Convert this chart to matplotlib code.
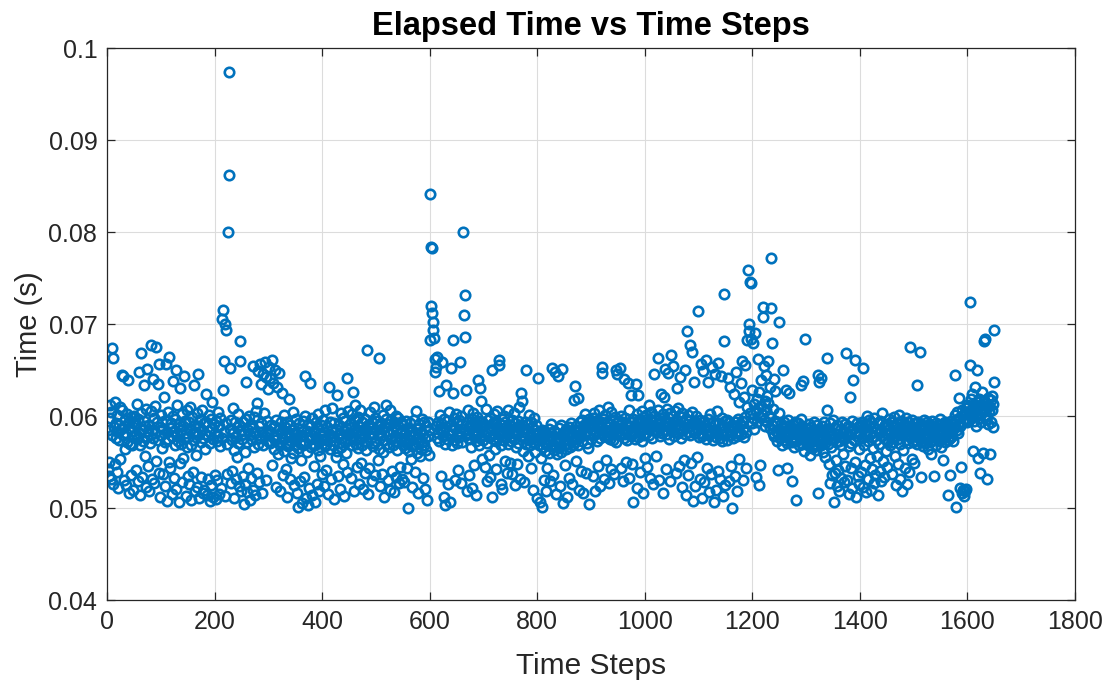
import numpy as np
import matplotlib
matplotlib.use("Agg")
import matplotlib.pyplot as plt

# Elapsed time per step, in milliseconds, in blocks of 150 steps
elapsed_ms_0001_0150 = [
    58.5, 54.2, 53.5, 55.0, 59.8, 61.2, 60.4, 53.1, 57.9, 67.4,
    66.3, 52.6, 58.8, 61.5, 54.8, 59.2, 57.6, 53.9, 60.1, 58.3,
    52.2, 59.0, 57.4, 61.0, 55.3, 58.6, 60.6, 64.5, 64.3, 57.9,
    53.0, 58.9, 59.6, 56.4, 52.5, 58.1, 60.2, 57.2, 63.9, 59.4,
    51.6, 58.7, 57.0, 59.9, 53.6, 58.4, 56.8, 59.3, 52.0, 60.0,
    57.8, 59.1, 54.1, 58.0, 61.3, 57.5, 52.9, 59.7, 64.8, 58.2,
    56.9, 51.4, 60.3, 66.9, 58.6, 53.4, 57.3, 63.4, 59.5, 55.6,
    58.9, 52.3, 60.8, 57.7, 65.1, 58.4, 54.6, 59.0, 51.9, 57.1,
    67.7, 60.5, 53.2, 58.5, 64.0, 57.6, 59.8, 52.7, 61.1, 58.1,
    55.1, 67.5, 59.3, 63.5, 57.4, 53.8, 65.6, 58.8, 51.2, 60.1,
    57.9, 56.5, 59.4, 53.7, 58.6, 62.1, 57.2, 52.4, 65.7, 59.6,
    58.3, 50.8, 60.4, 57.5, 55.0, 66.4, 58.7, 54.3, 59.2, 51.5,
    57.8, 63.8, 60.0, 58.4, 53.3, 56.9, 59.7, 65.0, 52.1, 58.0,
    61.2, 57.3, 50.6, 59.1, 54.9, 63.0, 58.5, 57.0, 52.8, 60.2,
    58.9, 55.4, 57.6, 64.4, 59.5, 51.3, 58.2, 56.6, 60.7, 53.5,
]
elapsed_ms_0151_0300 = [
    57.7, 59.3, 52.6, 58.6, 61.0, 56.8, 50.9, 59.9, 58.1, 53.9,
    57.4, 63.4, 59.0, 51.8, 58.3, 55.8, 60.3, 52.3, 57.9, 64.6,
    58.8, 51.1, 59.6, 57.2, 53.4, 58.5, 60.6, 51.6, 57.6, 59.2,
    52.0, 58.0, 56.4, 62.4, 59.4, 51.4, 57.8, 53.1, 60.1, 58.4,
    50.8, 57.1, 59.7, 52.5, 58.7, 61.5, 51.2, 57.5, 59.1, 53.6,
    58.2, 51.0, 59.5, 57.3, 53.0, 60.4, 57.8, 51.5, 58.9, 56.7,
    59.8, 52.2, 70.5, 57.6, 62.8, 71.5, 66.0, 58.3, 70.0, 51.3,
    59.2, 69.3, 57.0, 53.7, 80.0, 86.2, 97.4, 58.6, 65.2, 52.7,
    59.6, 57.4, 54.0, 58.1, 60.9, 56.3, 51.1, 59.3, 57.7, 53.2,
    58.8, 55.5, 60.2, 57.1, 52.4, 59.0, 68.2, 66.0, 58.4, 51.9,
    57.5, 53.5, 59.4, 50.4, 58.0, 56.1, 52.6, 63.7, 59.7, 57.2,
    51.7, 58.5, 54.4, 60.0, 57.9, 50.9, 59.1, 53.3, 57.4, 58.7,
    65.4, 52.0, 59.9, 56.6, 51.4, 58.2, 60.5, 53.8, 61.4, 57.0,
    64.9, 58.9, 52.8, 65.6, 57.6, 59.2, 63.5, 51.6, 58.3, 64.6,
    56.9, 60.3, 65.9, 57.8, 53.0, 64.2, 59.5, 58.0, 62.9, 57.3,
]
elapsed_ms_0301_0450 = [
    65.3, 58.4, 57.1, 64.1, 59.0, 54.7, 66.1, 57.7, 63.6, 58.9,
    56.4, 65.0, 57.4, 52.3, 59.6, 63.2, 57.9, 55.9, 58.6, 64.7,
    56.8, 51.8, 59.3, 57.2, 62.5, 58.1, 53.6, 57.5, 60.1, 56.2,
    58.8, 54.2, 57.0, 59.4, 51.2, 58.3, 56.7, 61.9, 57.8, 53.1,
    59.0, 57.3, 55.4, 58.5, 56.0, 60.4, 57.6, 52.5, 58.2, 56.9,
    57.4, 59.7, 51.6, 58.0, 56.5, 50.1, 59.2, 57.1, 52.9, 58.6,
    55.2, 57.9, 50.5, 59.5, 56.8, 53.4, 57.3, 60.0, 64.3, 51.1,
    58.4, 56.1, 59.1, 50.3, 57.7, 52.2, 58.9, 63.6, 56.6, 57.5,
    51.4, 59.8, 57.0, 54.6, 58.2, 50.7, 56.9, 59.3, 57.6, 52.6,
    58.7, 56.3, 60.2, 57.2, 51.9, 58.1, 55.7, 59.0, 57.8, 53.7,
    57.5, 59.6, 52.4, 58.3, 56.7, 60.6, 57.0, 54.1, 58.8, 57.4,
    51.5, 63.2, 58.0, 56.4, 59.4, 57.7, 53.2, 58.5, 60.9, 56.9,
    57.8, 51.0, 59.2, 57.3, 55.5, 58.6, 56.2, 62.3, 57.9, 53.5,
    59.0, 57.1, 52.1, 58.2, 60.3, 56.6, 57.6, 54.8, 59.8, 58.4,
    51.3, 57.2, 59.5, 56.0, 58.7, 64.1, 53.9, 57.9, 60.5, 58.1,
]
elapsed_ms_0451_0600 = [
    59.1, 57.4, 53.3, 58.8, 56.8, 60.2, 57.7, 62.6, 58.5, 51.8,
    59.6, 61.2, 57.0, 58.3, 54.5, 59.9, 56.5, 52.6, 58.9, 57.5,
    60.7, 54.9, 58.1, 56.9, 59.3, 52.1, 58.6, 57.8, 53.8, 59.7,
    56.3, 58.4, 67.2, 57.2, 51.5, 59.0, 58.0, 54.3, 60.4, 57.6,
    58.7, 52.9, 59.4, 56.7, 58.2, 61.0, 57.1, 53.6, 59.8, 58.5,
    57.3, 59.5, 55.2, 58.9, 56.4, 66.3, 58.1, 52.4, 59.2, 57.9,
    53.7, 58.6, 56.1, 60.1, 57.4, 51.2, 58.8, 59.7, 61.2, 57.0,
    58.4, 53.0, 59.1, 56.6, 58.0, 52.0, 60.6, 57.5, 59.6, 54.0,
    58.3, 56.9, 51.7, 59.3, 57.7, 58.9, 53.4, 60.0, 56.3, 58.6,
    57.2, 59.8, 52.7, 58.1, 54.5, 57.6, 59.4, 53.1, 58.5, 56.8,
    59.0, 57.3, 52.8, 58.2, 56.5, 59.5, 57.0, 54.4, 58.7, 50.0,
    57.4, 56.2, 59.2, 57.8, 55.3, 58.4, 56.7, 52.3, 57.9, 59.6,
    56.9, 58.1, 53.9, 57.5, 60.5, 56.0, 58.6, 57.1, 51.6, 59.1,
    57.7, 55.7, 58.3, 56.4, 59.7, 57.2, 53.3, 58.0, 56.8, 59.3,
    57.6, 52.1, 58.9, 56.3, 50.9, 59.4, 57.8, 55.8, 58.5, 68.3,
]
elapsed_ms_0601_0750 = [
    84.1, 72.0, 78.4, 78.3, 71.2, 70.2, 69.3, 68.5, 66.2, 64.8,
    58.9, 65.3, 57.6, 66.4, 59.4, 58.1, 62.7, 57.3, 60.1, 58.6,
    53.5, 59.2, 65.9, 57.8, 58.4, 51.2, 59.7, 57.0, 50.3, 58.8,
    63.4, 57.5, 59.5, 52.6, 58.2, 60.4, 50.6, 57.9, 59.0, 65.2,
    58.5, 56.9, 62.5, 68.3, 59.8, 57.4, 53.0, 58.7, 60.2, 57.1,
    59.3, 58.0, 54.1, 59.6, 57.7, 65.9, 58.4, 52.7, 60.0, 57.2,
    59.1, 80.0, 58.6, 71.0, 68.6, 73.1, 57.9, 62.8, 59.4, 51.9,
    58.2, 60.6, 57.5, 53.6, 59.0, 58.8, 56.6, 59.7, 52.2, 58.3,
    60.3, 57.8, 54.7, 59.2, 58.5, 51.4, 57.3, 59.9, 63.9, 58.1,
    56.8, 59.5, 63.0, 57.6, 61.6, 58.7, 55.3, 59.3, 57.4, 58.9,
    57.9, 54.5, 59.0, 58.2, 60.8, 57.1, 52.9, 59.6, 58.4, 55.8,
    57.7, 59.8, 53.4, 58.6, 65.0, 51.2, 59.2, 57.5, 60.2, 58.0,
    56.4, 59.4, 57.3, 54.2, 58.8, 60.5, 57.6, 66.1, 65.5, 59.1,
    58.3, 56.9, 52.6, 59.7, 52.1, 58.1, 57.4, 60.0, 58.7, 55.1,
    59.3, 57.8, 53.8, 58.5, 60.6, 57.0, 59.0, 58.2, 54.9, 57.7,
]
elapsed_ms_0751_0900 = [
    58.9, 57.3, 59.6, 53.7, 58.1, 60.3, 57.5, 52.5, 59.2, 58.4,
    56.6, 54.8, 58.0, 59.5, 57.1, 61.0, 58.7, 53.2, 57.8, 62.5,
    59.0, 61.6, 58.3, 56.2, 57.6, 52.8, 59.4, 58.6, 57.0, 65.0,
    58.2, 55.6, 59.1, 57.4, 60.1, 58.0, 56.8, 54.3, 59.3, 57.7,
    58.8, 52.0, 57.2, 59.8, 58.5, 56.1, 57.9, 59.0, 51.1, 58.1,
    57.4, 64.1, 56.9, 58.2, 50.6, 57.7, 55.4, 58.5, 50.1, 56.6,
    57.9, 53.0, 58.3, 56.2, 57.1, 51.8, 58.0, 56.8, 54.4, 57.5,
    58.6, 56.0, 57.3, 52.9, 59.1, 56.7, 57.8, 65.2, 57.0, 53.6,
    58.4, 56.3, 64.8, 57.6, 51.5, 58.1, 55.9, 57.2, 64.3, 56.5,
    58.7, 52.4, 57.4, 59.0, 56.1, 65.1, 57.8, 50.5, 58.2, 56.9,
    57.5, 54.7, 58.6, 56.4, 57.9, 51.2, 58.3, 57.0, 53.3, 58.8,
    56.6, 57.7, 59.2, 52.6, 58.1, 56.8, 57.4, 61.7, 58.5, 63.3,
    57.2, 55.1, 58.9, 57.6, 62.0, 56.9, 58.4, 52.0, 59.3, 57.8,
    58.0, 54.0, 59.6, 57.3, 58.7, 51.6, 59.0, 57.9, 60.2, 58.3,
    53.8, 59.4, 57.1, 58.8, 56.5, 59.7, 50.4, 58.2, 59.1, 57.5,
]
elapsed_ms_0901_1050 = [
    59.2, 58.6, 53.5, 59.8, 57.9, 60.3, 58.4, 51.9, 59.5, 58.1,
    57.3, 59.0, 54.6, 58.7, 60.6, 57.6, 52.4, 59.3, 58.9, 65.3,
    64.7, 59.7, 58.2, 53.1, 57.8, 60.1, 58.5, 55.2, 59.4, 57.7,
    58.8, 61.0, 52.7, 59.1, 58.3, 57.5, 60.4, 54.2, 58.0, 59.6,
    57.4, 58.9, 53.7, 59.9, 58.6, 65.0, 57.2, 59.2, 64.6, 58.4,
    59.5, 57.9, 65.2, 58.7, 54.4, 60.0, 58.2, 59.3, 52.9, 58.6,
    57.6, 64.0, 59.8, 58.0, 55.0, 59.1, 57.4, 63.6, 58.5, 60.7,
    53.3, 58.9, 59.4, 57.8, 62.3, 58.3, 54.8, 59.7, 50.7, 58.1,
    57.5, 59.0, 63.5, 58.8, 52.2, 60.2, 62.3, 57.7, 59.6, 58.4,
    53.9, 59.2, 58.6, 57.3, 60.5, 51.6, 58.7, 59.9, 57.9, 55.4,
    59.4, 58.2, 60.1, 54.5, 59.0, 58.6, 61.2, 57.9, 59.7, 53.3,
    58.8, 60.4, 57.6, 59.3, 52.6, 58.9, 60.0, 64.6, 58.4, 59.6,
    55.6, 59.1, 58.3, 60.6, 66.3, 58.7, 53.0, 59.8, 57.8, 62.4,
    59.5, 58.1, 51.6, 60.2, 59.0, 62.1, 58.5, 65.1, 54.2, 59.2,
    60.8, 58.0, 64.7, 59.4, 57.5, 52.9, 60.3, 58.6, 66.6, 59.1,
]
elapsed_ms_1051_1200 = [
    58.4, 60.0, 65.4, 59.3, 57.8, 60.5, 58.9, 53.8, 59.6, 63.0,
    58.2, 60.9, 59.0, 54.6, 58.7, 64.2, 59.9, 57.6, 52.3, 60.3,
    58.5, 59.4, 55.2, 58.0, 65.0, 59.7, 51.4, 58.8, 69.2, 60.1,
    53.6, 58.3, 59.5, 67.7, 57.9, 54.9, 67.0, 60.4, 58.6, 50.8,
    59.2, 63.7, 58.1, 52.4, 60.0, 59.3, 55.5, 58.7, 71.4, 57.7,
    58.9, 53.2, 59.6, 65.7, 58.2, 51.1, 57.8, 59.3, 64.9, 58.6,
    52.8, 59.0, 57.5, 66.1, 58.4, 54.3, 59.7, 63.7, 57.9, 51.7,
    58.8, 60.2, 53.7, 58.1, 65.3, 57.4, 59.4, 50.6, 58.5, 64.6,
    59.1, 52.0, 57.7, 60.5, 58.3, 54.0, 65.8, 59.2, 57.6, 53.1,
    58.7, 64.4, 59.8, 57.3, 51.3, 58.0, 73.3, 68.1, 59.5, 52.5,
    58.2, 59.6, 57.4, 64.1, 58.8, 52.9, 59.3, 57.9, 63.2, 58.5,
    54.6, 59.0, 50.0, 57.6, 58.9, 62.4, 53.5, 59.4, 58.1, 64.8,
    57.8, 51.9, 59.7, 58.4, 61.5, 55.3, 59.1, 63.6, 58.0, 66.0,
    59.5, 53.0, 58.6, 62.1, 57.7, 65.5, 59.9, 54.4, 58.3, 68.3,
    61.0, 75.9, 70.0, 69.2, 60.3, 74.6, 74.5, 68.4, 62.8, 59.2,
]
elapsed_ms_1201_1350 = [
    59.8, 67.9, 61.3, 58.6, 69.0, 60.5, 53.4, 61.8, 59.4, 66.2,
    60.9, 52.5, 62.6, 59.9, 54.7, 61.1, 63.9, 60.2, 71.9, 70.8,
    59.6, 65.4, 61.6, 58.9, 64.5, 60.7, 62.2, 59.3, 66.0, 61.4,
    60.0, 63.2, 58.7, 77.2, 71.7, 67.9, 59.0, 60.8, 58.1, 64.0,
    57.8, 59.5, 62.7, 58.4, 57.3, 59.2, 54.1, 58.0, 60.3, 70.2,
    58.5, 57.6, 59.1, 58.0, 56.9, 58.7, 65.0, 57.8, 59.3, 58.2,
    57.4, 62.8, 58.9, 57.1, 54.3, 58.4, 59.6, 57.9, 62.5, 58.1,
    57.5, 58.8, 52.9, 57.2, 59.0, 58.3, 57.7, 56.6, 58.6, 59.4,
    57.3, 50.9, 58.0, 57.9, 59.2, 58.5, 56.8, 57.6, 58.2, 59.7,
    63.4, 57.0, 58.9, 63.8, 58.3, 57.4, 56.2, 68.4, 58.7, 57.8,
    57.4, 58.6, 56.9, 57.9, 59.1, 57.2, 58.3, 55.8, 57.7, 58.8,
    56.5, 58.1, 57.5, 59.3, 56.7, 58.0, 57.0, 58.5, 56.3, 57.8,
    59.0, 64.5, 51.6, 63.7, 57.3, 58.4, 64.1, 56.8, 57.6, 58.9,
    56.1, 57.4, 59.4, 58.2, 57.1, 55.5, 58.6, 66.3, 60.7, 57.0,
    58.3, 54.8, 57.8, 59.2, 52.7, 56.6, 58.1, 53.6, 57.5, 59.6,
]
elapsed_ms_1351_1500 = [
    50.7, 57.6, 53.8, 58.7, 55.2, 57.2, 52.4, 59.0, 58.0, 54.1,
    57.3, 51.9, 58.5, 56.9, 53.3, 59.3, 57.7, 55.9, 58.2, 52.8,
    57.5, 54.6, 59.1, 58.3, 66.8, 53.0, 57.9, 58.9, 51.5, 56.7,
    62.1, 58.4, 54.4, 57.1, 59.5, 52.2, 58.6, 63.9, 57.4, 66.1,
    55.0, 58.1, 51.2, 59.2, 57.8, 53.5, 58.8, 56.4, 52.6, 59.0,
    58.2, 53.9, 57.6, 59.4, 65.2, 52.3, 58.7, 56.8, 54.7, 59.1,
    57.9, 51.7, 58.4, 60.0, 53.2, 57.3, 59.6, 55.4, 58.0, 52.0,
    59.3, 57.7, 54.2, 58.9, 56.5, 52.7, 59.8, 58.3, 53.6, 57.4,
    58.6, 55.7, 59.2, 51.4, 58.1, 57.0, 54.0, 59.5, 58.5, 52.9,
    57.8, 60.3, 55.1, 58.8, 53.4, 57.5, 59.0, 56.2, 58.2, 54.5,
    59.1, 58.0, 57.3, 59.7, 58.6, 56.9, 58.3, 59.4, 57.6, 53.7,
    58.8, 57.2, 59.9, 58.1, 55.6, 57.8, 58.9, 52.5, 59.2, 57.5,
    54.8, 58.4, 60.1, 57.0, 53.1, 58.7, 59.5, 51.8, 57.9, 58.2,
    56.3, 59.0, 54.4, 58.5, 57.4, 59.8, 52.6, 58.0, 57.1, 59.3,
    53.9, 58.6, 57.7, 67.5, 58.3, 55.3, 59.6, 57.2, 58.8, 54.9,
]
elapsed_ms_1501_1650 = [
    58.1, 57.4, 59.2, 57.9, 58.6, 63.4, 57.0, 59.4, 58.3, 57.6,
    58.9, 67.0, 53.4, 57.3, 58.5, 59.0, 57.8, 56.7, 58.2, 59.6,
    57.1, 58.7, 57.5, 59.3, 58.0, 56.4, 58.8, 57.7, 59.1, 58.4,
    57.2, 58.9, 55.9, 57.9, 59.5, 58.1, 57.4, 53.5, 58.6, 57.8,
    59.2, 56.9, 58.3, 57.6, 59.0, 58.5, 57.3, 58.0, 59.7, 56.6,
    58.4, 57.5, 59.1, 55.2, 58.0, 57.7, 58.9, 57.2, 59.4, 58.3,
    57.9, 58.6, 57.4, 51.4, 59.0, 58.1, 57.6, 53.6, 58.8, 59.5,
    57.8, 58.4, 59.2, 57.3, 58.7, 60.1, 64.5, 50.1, 59.6, 58.5,
    60.4, 59.0, 58.2, 62.0, 59.8, 52.2, 58.9, 54.5, 60.6, 51.6,
    59.3, 52.0, 60.2, 51.3, 59.7, 51.8, 60.9, 52.1, 59.4, 61.2,
    61.0, 60.3, 59.6, 72.4, 65.5, 61.8, 60.7, 59.9, 62.4, 60.2,
    56.2, 61.3, 59.5, 63.1, 60.8, 58.9, 65.0, 61.5, 60.1, 55.4,
    61.9, 59.8, 60.6, 53.8, 61.2, 59.3, 62.6, 60.4, 56.0, 61.6,
    68.2, 68.4, 60.9, 59.7, 61.4, 53.2, 60.0, 62.0, 59.1, 61.1,
    60.5, 55.9, 61.7, 59.4, 62.2, 60.6, 58.8, 61.3, 63.7, 69.4,
]

x_ticks = [0, 200, 400, 600, 800, 1000, 1200, 1400, 1600, 1800]
y_ticks = [0.04, 0.05, 0.06, 0.07, 0.08, 0.09, 0.1]
y_tick_labels = ["0.04", "0.05", "0.06", "0.07", "0.08", "0.09", "0.1"]

elapsed_s = np.concatenate([
    elapsed_ms_0001_0150, elapsed_ms_0151_0300, elapsed_ms_0301_0450,
    elapsed_ms_0451_0600, elapsed_ms_0601_0750, elapsed_ms_0751_0900,
    elapsed_ms_0901_1050, elapsed_ms_1051_1200, elapsed_ms_1201_1350,
    elapsed_ms_1351_1500, elapsed_ms_1501_1650,
]) / 1000.0
steps = np.arange(1, len(elapsed_s) + 1)

plt.rcParams["font.family"] = ["Liberation Sans", "DejaVu Sans"]

fig = plt.figure(figsize=(11.16, 6.82), dpi=100)
ax = fig.add_axes([107 / 1116, 82 / 682, 968 / 1116, 552 / 682])

ax.plot(steps, elapsed_s, linestyle="none", marker="o", markersize=6.8,
        markerfacecolor="none", markeredgecolor="#0072BD", markeredgewidth=1.9)

ax.set_xlim(0, 1800)
ax.set_ylim(0.04, 0.1)
ax.set_xticks(x_ticks)
ax.set_yticks(y_ticks)
ax.set_yticklabels(y_tick_labels)

ax.grid(True, color="#dcdcdc", linewidth=0.8)
ax.set_axisbelow(True)
for side in ax.spines.values():
    side.set_color("#262626")
    side.set_linewidth(0.9)
ax.tick_params(direction="in", length=6, width=0.9, colors="#262626",
               labelsize=18, top=True, right=True, pad=7)
for lbl in ax.get_xticklabels() + ax.get_yticklabels():
    lbl.set_color("#262626")

ax.set_xlabel("Time Steps", fontsize=21.5, color="#262626", labelpad=13)
ax.set_ylabel("Time (s)", fontsize=21, color="#262626", labelpad=4)
ax.set_title("Elapsed Time vs Time Steps", fontsize=23.5, fontweight="bold",
             color="black", pad=9)

fig.savefig("out.png", dpi=100)
